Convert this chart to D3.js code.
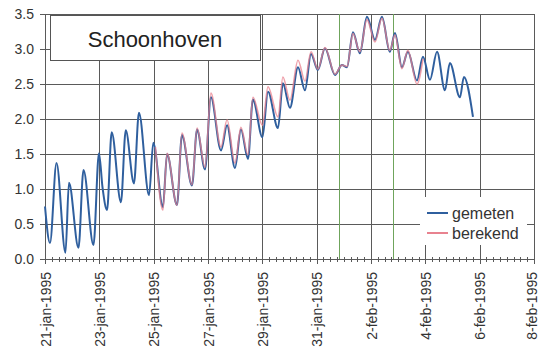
<!DOCTYPE html>
<html>
<head>
<meta charset="utf-8">
<script src="https://cdn.jsdelivr.net/npm/d3@7"></script>
<style>
  html, body { margin: 0; padding: 0; background: #fff; }
  svg { display: block; }
  text { font-family: Arial, "Liberation Sans", Helvetica, sans-serif; }
</style>
</head>
<body>
<svg id="chart" width="541" height="352"></svg>
<script>
// Waterstand Schoonhoven, 21 jan – 8 feb 1995 (m), hoog- en laagwaters
const gemetenTimes = [
  "1995-01-21 00:00","1995-01-21 04:25","1995-01-21 10:10","1995-01-21 18:05","1995-01-21 21:10",
  "1995-01-22 05:35","1995-01-22 10:00","1995-01-22 18:50","1995-01-22 23:40","1995-01-23 02:50",
  "1995-01-23 06:50","1995-01-23 10:55","1995-01-23 19:05","1995-01-23 23:20","1995-01-24 06:35",
  "1995-01-24 11:00","1995-01-24 19:55","1995-01-24 23:40","1995-01-25 08:10","1995-01-25 11:50",
  "1995-01-25 20:35","1995-01-26 01:00","1995-01-26 09:50","1995-01-26 14:20","1995-01-26 21:20",
  "1995-01-27 02:35","1995-01-27 11:30","1995-01-27 16:50","1995-01-27 23:50","1995-01-28 05:05",
  "1995-01-28 11:20","1995-01-28 15:40","1995-01-29 00:05","1995-01-29 05:00","1995-01-29 13:50",
  "1995-01-29 18:10","1995-01-30 00:25","1995-01-30 07:30","1995-01-30 13:40","1995-01-30 19:00",
  "1995-01-31 01:05","1995-01-31 07:20","1995-01-31 16:10","1995-01-31 22:20","1995-02-01 02:50",
  "1995-02-01 08:05","1995-02-01 14:10","1995-02-01 20:25","1995-02-02 03:30","1995-02-02 09:40",
  "1995-02-02 16:40","1995-02-02 21:10","1995-02-03 03:20","1995-02-03 08:35","1995-02-03 16:35",
  "1995-02-03 21:55","1995-02-04 04:05","1995-02-04 10:20","1995-02-04 17:20","1995-02-04 21:40",
  "1995-02-05 06:35","1995-02-05 10:05","1995-02-05 18:05"
];
const gemetenValues = [
  0.75, 0.23, 1.37, 0.09, 1.09,
  0.16, 1.27, 0.20, 1.51, 1.02,
  0.70, 1.81, 0.81, 1.84, 1.08,
  2.09, 0.91, 1.66, 0.74, 1.50,
  0.77, 1.77, 1.05, 1.85, 1.28,
  2.31, 1.55, 1.91, 1.30, 1.85,
  1.43, 2.28, 1.74, 2.39, 1.87,
  2.51, 2.16, 2.74, 2.41, 2.93,
  2.70, 3.01, 2.63, 2.77, 2.74,
  3.24, 2.94, 3.46, 3.13, 3.46,
  2.96, 3.23, 2.74, 2.96, 2.55,
  2.89, 2.56, 2.96, 2.41, 2.80,
  2.31, 2.60, 2.03
];

const berekendTimes = [
  "1995-01-25 01:35","1995-01-25 08:10","1995-01-25 11:50","1995-01-25 20:35","1995-01-26 01:00",
  "1995-01-26 09:50","1995-01-26 14:20","1995-01-26 21:20","1995-01-27 02:35","1995-01-27 11:30",
  "1995-01-27 16:50","1995-01-27 23:50","1995-01-28 05:05","1995-01-28 11:20","1995-01-28 15:40",
  "1995-01-29 00:05","1995-01-29 05:00","1995-01-29 13:50","1995-01-29 18:10","1995-01-30 00:25",
  "1995-01-30 07:30","1995-01-30 13:40","1995-01-30 19:00","1995-01-31 01:05","1995-01-31 07:20",
  "1995-01-31 16:10","1995-01-31 22:20","1995-02-01 02:50","1995-02-01 08:05","1995-02-01 14:10",
  "1995-02-01 20:25","1995-02-02 03:30","1995-02-02 09:40","1995-02-02 16:40","1995-02-02 21:10",
  "1995-02-03 03:20","1995-02-03 08:35","1995-02-03 16:35","1995-02-03 21:55"
];
const berekendValues = [
  1.60, 0.70, 1.51, 0.77, 1.80,
  1.06, 1.87, 1.31, 2.37, 1.60,
  1.99, 1.37, 1.88, 1.49, 2.31,
  1.91, 2.46, 2.03, 2.60, 2.27,
  2.84, 2.54, 2.96, 2.71, 3.02,
  2.64, 2.77, 2.75, 3.22, 2.96,
  3.42, 3.10, 3.44, 2.98, 3.20,
  2.72, 2.98, 2.50, 2.86
];

// Extra markeringen (groene verticale lijnen)
const markerTimes = ["1995-01-31 19:40", "1995-02-02 19:25"];

const xTickLabels = ["21-jan-1995","23-jan-1995","25-jan-1995","27-jan-1995","29-jan-1995",
                     "31-jan-1995","2-feb-1995","4-feb-1995","6-feb-1995","8-feb-1995"];
const yTickValues = [0.0, 0.5, 1.0, 1.5, 2.0, 2.5, 3.0, 3.5];

const seriesNames = ["gemeten", "berekend"];
const seriesColors = ["#2f5f9e", "#e8828f"];
const stationName = "Schoonhoven";

// ---- layout ----
const parse = d3.timeParse("%Y-%m-%d %H:%M");
const start = parse("1995-01-21 00:00");
const end = parse("1995-02-08 00:00");
const plotLeft = 45, plotRight = 534, plotTop = 14, plotBottom = 259;

const x = d3.scaleTime().domain([start, end]).range([plotLeft, plotRight]);
const y = d3.scaleLinear().domain([0, 3.5]).range([plotBottom, plotTop]);

const svg = d3.select("#chart");
const gridColor = "#5a5a5a";

const majorTicks = xTickLabels.map((_, i) => d3.timeDay.offset(start, 2 * i));
const minorTicks = d3.timeHour.every(6).range(start, end);

// horizontal gridlines
svg.append("g").selectAll("line").data(yTickValues).join("line")
  .attr("x1", plotLeft - 5).attr("x2", plotRight)
  .attr("y1", d => Math.round(y(d)) + 0.5).attr("y2", d => Math.round(y(d)) + 0.5)
  .attr("stroke", gridColor).attr("stroke-width", 1);

// vertical gridlines at major dates
svg.append("g").selectAll("line").data(majorTicks).join("line")
  .attr("x1", d => Math.round(x(d)) + 0.5).attr("x2", d => Math.round(x(d)) + 0.5)
  .attr("y1", plotTop).attr("y2", plotBottom + 5)
  .attr("stroke", gridColor).attr("stroke-width", 1);

// minor ticks on the time axis
svg.append("g").selectAll("line").data(minorTicks).join("line")
  .attr("x1", d => Math.round(x(d)) + 0.5).attr("x2", d => Math.round(x(d)) + 0.5)
  .attr("y1", plotBottom - 2).attr("y2", plotBottom + 3)
  .attr("stroke", gridColor).attr("stroke-width", 1);

// green marker lines
svg.append("g").selectAll("line").data(markerTimes.map(parse)).join("line")
  .attr("x1", d => Math.round(x(d)) + 0.5).attr("x2", d => Math.round(x(d)) + 0.5)
  .attr("y1", plotTop).attr("y2", plotBottom)
  .attr("stroke", "#6fa45c").attr("stroke-width", 1);

// y-axis labels
svg.append("g").selectAll("text").data(yTickValues).join("text")
  .attr("x", 34).attr("y", d => y(d)).attr("dy", "0.36em")
  .attr("text-anchor", "end").attr("font-size", 14).attr("fill", "#333")
  .text(d => d3.format(".1f")(d));

// x-axis labels (rotated); the last one is kept inside the canvas
svg.append("g").selectAll("text").data(majorTicks).join("text")
  .attr("transform", d => `translate(${Math.min(x(d) + 1, 532)},${plotBottom + 13}) rotate(-90)`)
  .attr("dy", "0.34em").attr("text-anchor", "end")
  .attr("font-size", 14).attr("fill", "#333")
  .text((d, i) => xTickLabels[i]);

// series
const line = d3.line()
  .x(d => x(d.t)).y(d => y(d.v))
  .curve(d3.curveMonotoneX);

const gemeten = gemetenTimes.map((t, i) => ({ t: parse(t), v: gemetenValues[i] }));
const berekend = berekendTimes.map((t, i) => ({ t: parse(t), v: berekendValues[i] }));

svg.append("path").datum(gemeten).attr("d", line)
  .attr("fill", "none").attr("stroke", seriesColors[0]).attr("stroke-width", 2)
  .attr("stroke-linejoin", "round");
svg.append("path").datum(berekend).attr("d", line)
  .attr("fill", "none").attr("stroke", seriesColors[1]).attr("stroke-width", 1.6)
  .attr("stroke-opacity", 0.75).attr("stroke-linejoin", "round");

// title box
svg.append("rect").attr("x", 50.5).attr("y", 15.5).attr("width", 210).attr("height", 45)
  .attr("fill", "#fff").attr("stroke", "#555").attr("stroke-width", 1);
svg.append("text").attr("x", 155).attr("y", 46.5).attr("text-anchor", "middle")
  .attr("font-size", 22).attr("fill", "#222").text(stationName);

// legend
const legend = svg.append("g");
legend.append("rect").attr("x", 420).attr("y", 197).attr("width", 107).attr("height", 48)
  .attr("fill", "#fff");
seriesNames.forEach((name, i) => {
  const ly = 213 + i * 20;
  legend.append("line").attr("x1", 427).attr("x2", 448).attr("y1", ly).attr("y2", ly)
    .attr("stroke", seriesColors[i]).attr("stroke-width", 2);
  legend.append("text").attr("x", 452).attr("y", ly).attr("dy", "0.36em")
    .attr("font-size", 16).attr("fill", "#333").text(name);
});
</script>
</body>
</html>
